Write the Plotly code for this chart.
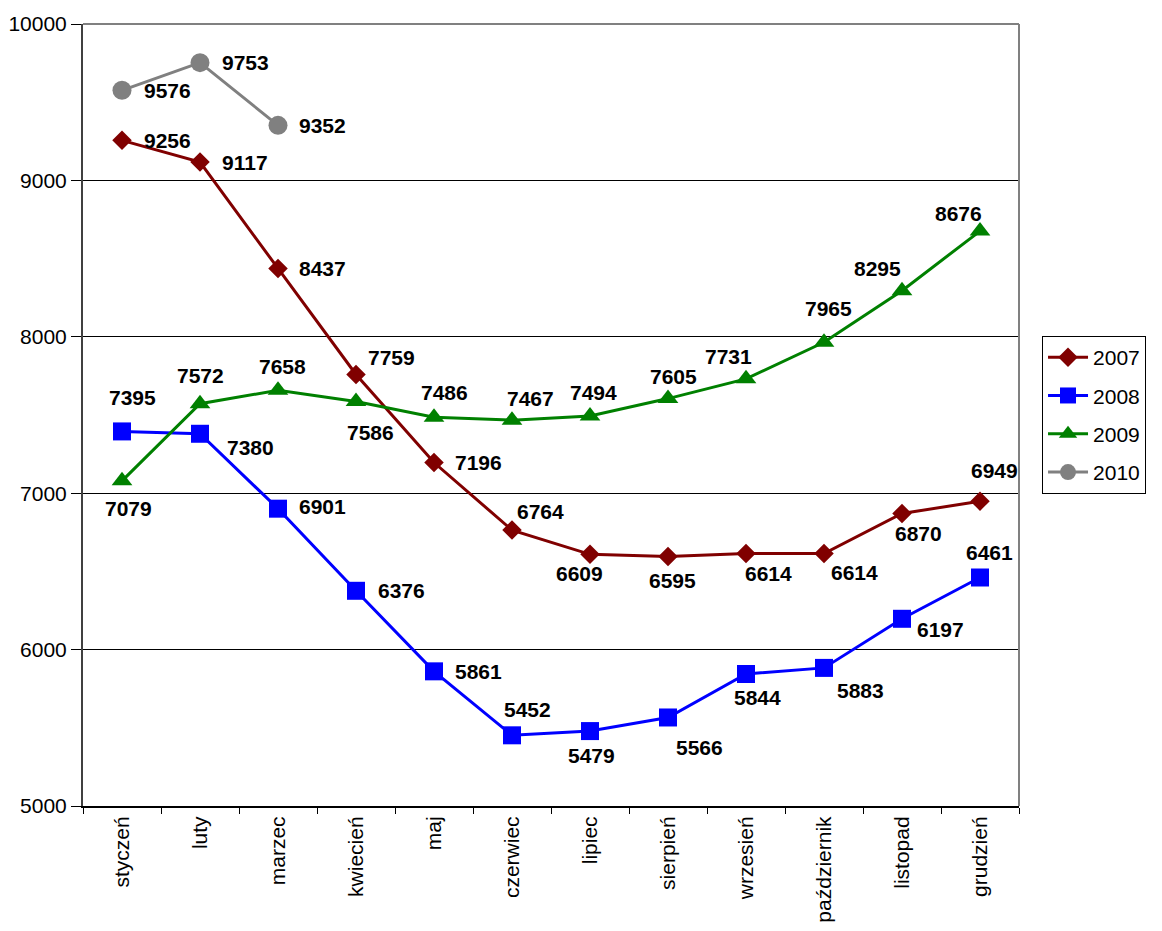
import plotly.graph_objects as go

months = ["styczeń", "luty", "marzec", "kwiecień", "maj", "czerwiec", "lipiec",
          "sierpień", "wrzesień", "październik", "listopad", "grudzień"]
v2007 = [9256, 9117, 8437, 7759, 7196, 6764, 6609, 6595, 6614, 6614, 6870, 6949]
v2008 = [7395, 7380, 6901, 6376, 5861, 5452, 5479, 5566, 5844, 5883, 6197, 6461]
v2009 = [7079, 7572, 7658, 7586, 7486, 7467, 7494, 7605, 7731, 7965, 8295, 8676]
v2010 = [9576, 9753, 9352]

# label offsets in pixels (dx right, dy down) relative to each point
off2007 = [(45, 0), (45, 0), (44, 0), (35, -17), (44, 0), (28, -19),
           (-11, 19), (4, 24), (22, 20), (30, 19), (16, 20), (14, -31)]
off2008 = [(10, -34), (50, 14), (44, -2), (45, 0), (44, 0), (15, -26),
           (1, 24), (31, 30), (11, 23), (36, 23), (38, 11), (9, -25)]
off2009 = [(6, 28), (0, -28), (4, -24), (14, 31), (10, -25), (18, -22),
           (3, -23), (5, -22), (-18, -22), (4, -34), (-25, -22), (-22, -18)]
off2010 = [(45, 0), (45, 0), (44, 0)]

series = [
    ("2007", v2007, "#800000", "diamond", 15, off2007),
    ("2008", v2008, "#0000FF", "square", 18, off2008),
    ("2009", v2009, "#008000", "triangle-up", 18, off2009),
    ("2010", v2010, "#808080", "circle", 19, off2010),
]

FONT = "Liberation Sans, Arial, sans-serif"

fig = go.Figure()
annotations = []
for name, vals, col, sym, ms, offs in series:
    xs = months[:len(vals)]
    fig.add_trace(go.Scatter(
        x=xs, y=vals, name=name, mode="lines+markers", legendgroup=name,
        line=dict(color=col, width=3),
        marker=dict(color=col, symbol=sym, size=ms),
        cliponaxis=False,
    ))
    for xv, yv, (dx, dy) in zip(xs, vals, offs):
        annotations.append(dict(
            x=xv, y=yv, xref="x", yref="y", text="<b>%d</b>" % yv, showarrow=False,
            xshift=dx, yshift=-dy, xanchor="center", yanchor="middle",
            font=dict(family=FONT, size=21, color="black"),
        ))

fig.update_layout(
    width=1154, height=923,
    margin=dict(l=75, r=143, t=16, b=125, autoexpand=False),
    paper_bgcolor="white", plot_bgcolor="white",
    font=dict(family=FONT, size=20, color="black"),
    showlegend=True,
    legend=dict(x=1.0246, y=0.601, xanchor="left", yanchor="top",
                bordercolor="black", borderwidth=1, bgcolor="white",
                font=dict(size=21), traceorder="grouped", tracegroupgap=8,
                itemwidth=40),
    annotations=annotations,
    shapes=[
        dict(type="line", xref="paper", yref="paper", x0=0, x1=1, y0=1, y1=1,
             line=dict(color="#808080", width=2), layer="above"),
        dict(type="line", xref="paper", yref="paper", x0=1, x1=1, y0=0, y1=1,
             line=dict(color="#808080", width=2), layer="above"),
    ],
)
fig.update_xaxes(
    type="category", categoryorder="array", categoryarray=months,
    range=[-0.5, 11.5], automargin=False,
    showline=True, linecolor="black", linewidth=2,
    ticks="outside", tickson="boundaries", ticklen=6, tickcolor="black",
    tickangle=-90, showgrid=False, tickfont=dict(size=21),
)
fig.update_yaxes(
    range=[5000, 10000], dtick=1000, tick0=5000, tickformat="d", automargin=False,
    showline=True, linecolor="#404040", linewidth=2,
    ticks="outside", ticklen=10, tickcolor="black",
    showgrid=True, gridcolor="black", gridwidth=1,
    tickfont=dict(size=21), zeroline=False,
)

fig.write_html("out.html")
